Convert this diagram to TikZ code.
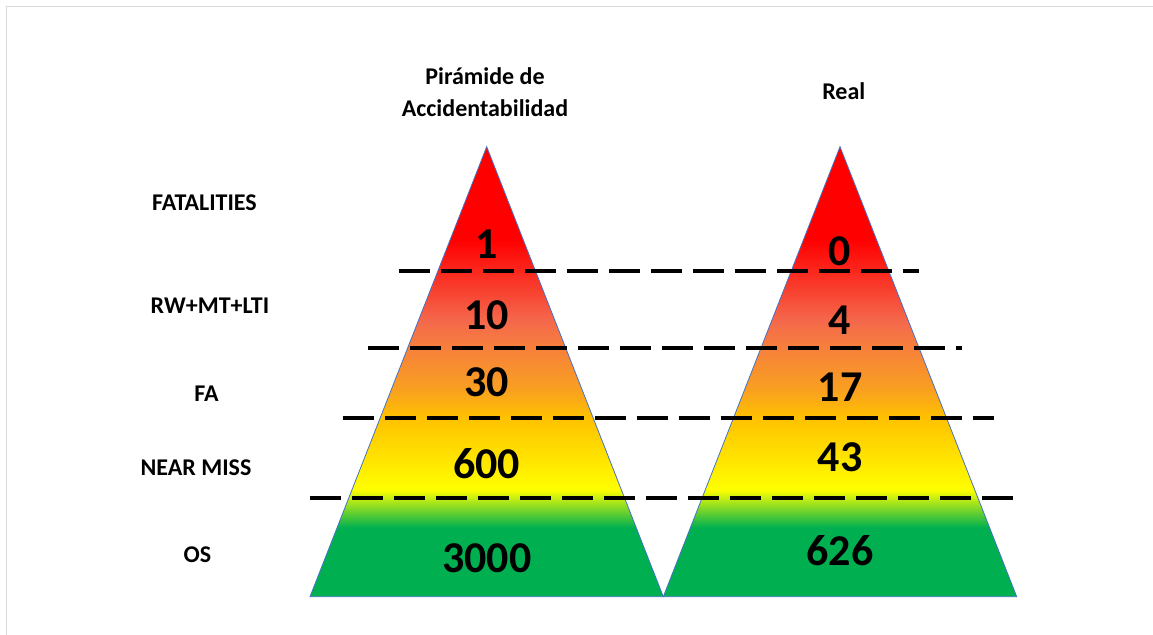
\documentclass[tikz,border=0pt]{standalone}
\usepackage{fontspec}
\setmainfont{Carlito}
\usepackage{tikz}
\usetikzlibrary{positioning}
\definecolor{riskred}{HTML}{FF0000}
\definecolor{riskcoral}{HTML}{F4684C}
\definecolor{riskorange}{HTML}{F7823A}
\definecolor{riskgold}{HTML}{F9A020}
\definecolor{riskamber}{HTML}{FFC000}
\definecolor{riskyellow}{HTML}{FFFF00}
\definecolor{safegreen}{HTML}{00B050}
\definecolor{edgeblue}{HTML}{4472C4}
\definecolor{framegray}{HTML}{D9D9D9}
\pgfdeclareverticalshading{riskgrad}{100bp}{color(0bp)=(safegreen); color(32.7bp)=(safegreen); color(36.9bp)=(riskyellow); color(45bp)=(riskamber); color(48bp)=(riskgold); color(52.4bp)=(riskorange); color(55.7bp)=(riskcoral); color(64.6bp)=(riskred); color(100bp)=(riskred)}

\begin{document}
\begin{tikzpicture}[
  x=0.75pt, y=-0.75pt,
  tri/.style={draw=edgeblue, line width=0.6pt, shading=riskgrad},
  cut/.style={line width=3pt, dash pattern=on 23.25pt off 8.25pt},
  cat/.style={anchor=base, inner sep=0pt, font=\fontsize{18}{22}\selectfont\bfseries},
  head/.style={align=center, inner sep=0pt, font=\fontsize{18}{23.8}\selectfont\bfseries},
  lvl/.style={anchor=base, inner sep=0pt, font=\fontsize{33}{36}\selectfont\bfseries}
]
\useasboundingbox (0,0) rectangle (1153,635);
\draw[framegray, line width=0.75pt] (6.5,635) -- (6.5,6.5) -- (1153,6.5);

% the two pyramids
\shade[tri] (310,596.7) -- (486.7,146.7) -- (663.3,596.7) -- cycle;
\shade[tri] (663.3,596.7) -- (840,146.7) -- (1016.7,596.7) -- cycle;

% level boundaries
\draw[cut] (399.3,270.7) -- (919.3,270.7);
\draw[cut] (368.3,347.7) -- (961.7,347.7);
\draw[cut] (342.7,417.7) -- (994.3,417.7);
\draw[cut] (310,497.7) -- (1018.3,497.7);

% headings
\node[head] (hpyr) at (485,92) {Pirámide de\\Accidentabilidad};
\node[head] (hreal) at (843.8,91) {Real};

% categories
\node[cat] (fat) at (204.5,210.7) {FATALITIES};
\node[cat] (rw) at (210,313.3) {RW+MT+LTI};
\node[cat] (fa) at (206.5,401.7) {FA};
\node[cat] (nm) at (196,475) {NEAR MISS};
\node[cat] (os) at (197.5,562.5) {OS};

% expected counts
\node[lvl] (p1) at (486.7,258.3) {1};
\node[lvl] (p2) at (486.7,329.3) {10};
\node[lvl] (p3) at (486.7,396) {30};
\node[lvl] (p4) at (486.7,478.3) {600};
\node[lvl] (p5) at (486.7,572.7) {3000};

% real counts
\node[lvl] (r1) at (840,265) {0};
\node[lvl] (r2) at (840,334) {4};
\node[lvl] (r3) at (840,401.7) {17};
\node[lvl] (r4) at (840,471.7) {43};
\node[lvl] (r5) at (840,565) {626};
\end{tikzpicture}
\end{document}
